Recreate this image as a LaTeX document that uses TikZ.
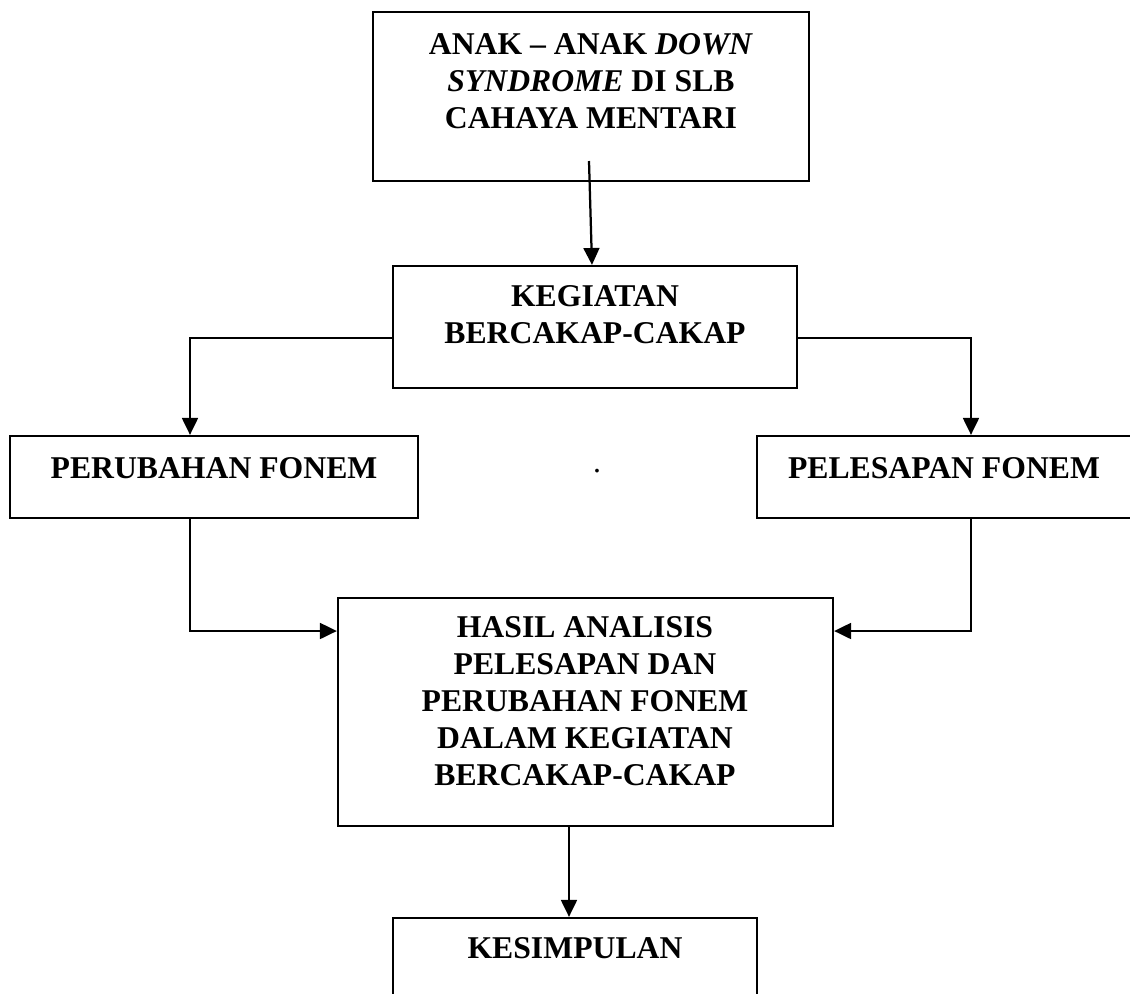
\documentclass[tikz,border=0pt]{standalone}
\usepackage{fontspec}
\setmainfont{Liberation Serif}
\usetikzlibrary{calc,fit,arrows.meta}

\begin{document}
\begin{tikzpicture}[x=0.0133cm,y=-0.0133cm,
  box/.style={draw,line width=0.85pt,inner sep=0pt},
  txt/.style={anchor=base,align=center,inner sep=0pt,font=\bfseries\fontsize{12}{14}\selectfont},
  arr/.style={line width=0.85pt,-{Triangle[length=6.4pt,width=6pt]}}]
  \clip (0,0) rectangle (1130,993);
  % boxes
  \node[box,fit={(373,12) (809,181)}] (anak) {};
  \node[box,fit={(393,266) (797,388)}] (kegiatan) {};
  \node[box,fit={(10,436) (418,518)}] (perubahan) {};
  \node[box,fit={(757,436) (1132,518)}] (pelesapan) {};
  \node[box,fit={(338,598) (833,826)}] (hasil) {};
  \node[box,fit={(393,918) (757,1010)}] (kesimpulan) {};
  % texts (placed at the baseline of their last line)
  \node[txt] (anak-txt) at (591,128) {ANAK – ANAK \textit{DOWN}\\\textit{SYNDROME} DI SLB\\CAHAYA MENTARI};
  \node[txt] (kegiatan-txt) at (595,343) {KEGIATAN\\BERCAKAP-CAKAP};
  \node[txt] (perubahan-txt) at (214,478) {PERUBAHAN FONEM};
  \node[txt] (pelesapan-txt) at (944,478) {PELESAPAN FONEM};
  \node[txt] (hasil-txt) at (585,785) {HASIL ANALISIS\\PELESAPAN DAN\\PERUBAHAN FONEM\\DALAM KEGIATAN\\BERCAKAP-CAKAP};
  \node[txt] (kesimpulan-txt) at (575,958) {KESIMPULAN};
  \node[txt,font=\fontsize{12}{14}\selectfont] (dot) at (597,472) {.};
  % arrows
  \coordinate (anak-start) at (589,161);
  \draw[arr] (anak-start) -- ($(kegiatan.north)+(-3,0)$);
  \draw[arr] ($(kegiatan.west)+(0,11)$) -| ($(perubahan.north)+(-24,0)$);
  \draw[arr] ($(kegiatan.east)+(0,11)$) -| ($(pelesapan.north)+(26.5,0)$);
  \draw[arr] ($(perubahan.south)+(-24,0)$) |- ($(hasil.west)+(0,-81)$);
  \draw[arr] ($(pelesapan.south)+(26.5,0)$) |- ($(hasil.east)+(0,-81)$);
  \draw[arr] ($(hasil.south)+(-16.5,0)$) -- (kesimpulan.north -| {$(hasil.south)+(-16.5,0)$});
\end{tikzpicture}
\end{document}
